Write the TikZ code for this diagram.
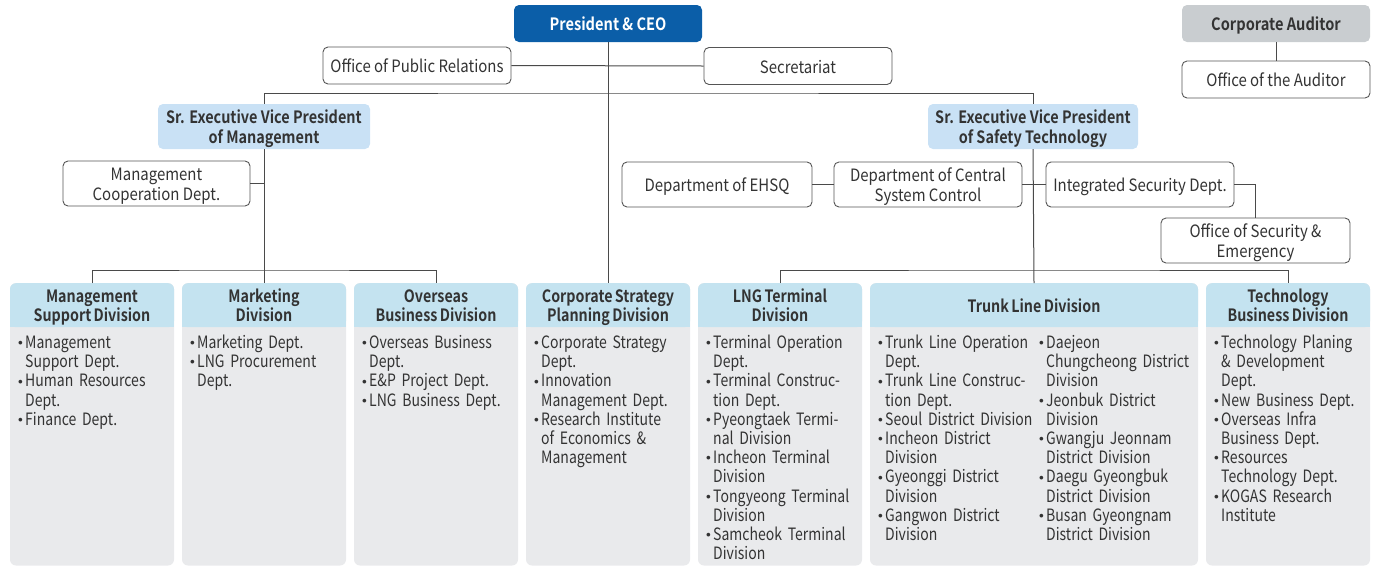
\documentclass[tikz,border=0pt]{standalone}
\usepackage{fontspec}
\usepackage{graphicx}
\setmainfont{Noto Sans CJK KR}[FakeStretch=0.88, BoldFont={Noto Sans CJK KR Bold}]
\newfontfamily\listfam{Noto Sans CJK KR}[FakeStretch=0.825, WordSpace=0.7, BoldFont={Noto Sans CJK KR Bold}]
\newfontfamily\hdrfam{Noto Sans CJK KR}[FakeStretch=0.84, WordSpace=0.75, BoldFont={Noto Sans CJK KR Bold}]
\newfontfamily\sevpfam{Noto Sans CJK KR}[FakeStretch=0.85, BoldFont={Noto Sans CJK KR Bold}]
\newfontfamily\ceofam{Noto Sans CJK KR}[FakeStretch=0.86, BoldFont={Noto Sans CJK KR Bold}]

\definecolor{ceoblue}{HTML}{0B5EA8}
\definecolor{sevpfill}{HTML}{C9E1F5}
\definecolor{hdrfill}{HTML}{C4E3F0}
\definecolor{bodyfill}{HTML}{E9EAEC}
\definecolor{audfill}{HTML}{C9CDD0}
\definecolor{linegray}{HTML}{4A4A4A}
\definecolor{boxgray}{HTML}{555555}
\definecolor{txt}{HTML}{333333}

\newcommand\chartsize{\fontsize{17}{19.2}\selectfont}
% fixed line height and depth, so that every label sits the same way in its box
\newcommand\capline{\rule{0pt}{19pt}}
\newcommand\deepline{\rule[-5pt]{0pt}{5pt}}
\newcommand\itemdot{\makebox[7pt][l]{\raisebox{0.3ex}{\scalebox{0.55}{$\bullet$}}}}
\newcommand\itemcont{\hspace*{7pt}}

% one division column: gray body, blue header with rounded top corners
\newcommand\division[4]{%
  \fill[bodyfill, rounded corners=6pt] (#2,283) rectangle (#3,565.5);
  \fill[hdrfill] (#2,300) rectangle (#3,327);
  \node[hdr, minimum width={#3-#2}, anchor=north] (#1) at ({(#2+#3)/2},283) {\capline#4\deepline};
}

\begin{document}
\begin{tikzpicture}[x=1pt, y=-1pt,
  conn/.style={draw=linegray, line width=1pt},
  box/.style={draw=boxgray, line width=0.9pt, fill=white, rounded corners=5pt,
    inner sep=0pt, align=center, text=txt, font=\chartsize},
  ceobox/.style={fill=ceoblue, rounded corners=5pt, inner sep=0pt, text=white,
    font=\ceofam\chartsize\bfseries, minimum width=188, minimum height=37},
  audbox/.style={fill=audfill, rounded corners=5pt, inner sep=0pt, text=txt,
    font=\ceofam\chartsize\bfseries, minimum width=188, minimum height=37},
  sevp/.style={fill=sevpfill, rounded corners=5pt, inner sep=0pt, text=txt,
    align=center, font=\sevpfam\chartsize\bfseries, minimum height=45},
  hdr/.style={fill=hdrfill, rounded corners=6pt, inner sep=0pt, text=txt,
    align=center, font=\hdrfam\chartsize\bfseries, minimum height=44},
  bodytxt/.style={inner sep=0pt, text=txt, align=left, text width=175,
    font=\listfam\chartsize, anchor=north west}]

\useasboundingbox (0,0) rectangle (1378,566);

% top management
\node[ceobox] (ceo) at (608,23.5) {\capline President \& CEO\deepline};
\node[box, minimum width=188, minimum height=37] (pr) at (417,65.5) {\capline Office of Public Relations\deepline};
\node[box, minimum width=188, minimum height=37] (sec) at (798,66) {\capline Secretariat\deepline};
\node[audbox] (aud) at (1276,23.5) {\capline Corporate Auditor\deepline};
\node[box, minimum width=188, minimum height=37] (oaud) at (1276,79.5) {\capline Office of the Auditor\deepline};

% senior executive vice presidents
\node[sevp, minimum width=212] (sevpM) at (264,126.5) {\capline Sr. Executive Vice President\\of Management\deepline};
\node[sevp, minimum width=210] (sevpS) at (1033,126.5) {\capline Sr. Executive Vice President\\of Safety Technology\deepline};

% staff departments
\node[box, minimum width=187, minimum height=45] (mcoop) at (156.5,183.5) {\capline Management\\Cooperation Dept.\deepline};
\node[box, minimum width=190, minimum height=45] (ehsq) at (717,184.5) {\capline Department of EHSQ\deepline};
\node[box, minimum width=188, minimum height=45] (cent) at (928,184.5) {\capline Department of Central\\System Control\deepline};
\node[box, minimum width=188, minimum height=45] (isec) at (1140,184.5) {\capline Integrated Security Dept.\deepline};
\node[box, minimum width=189, minimum height=45] (osec) at (1255.5,240.5) {\capline Office of Security \&\\Emergency\deepline};

% divisions
\division{d1}{10}{174}{Management\\Support Division}
\division{d2}{182}{346}{Marketing\\Division}
\division{d3}{354}{518}{Overseas\\Business Division}
\division{d4}{526}{690}{Corporate Strategy\\Planning Division}
\division{d5}{698}{862}{LNG Terminal\\Division}
\division{d6}{870}{1198}{Trunk Line Division}
\division{d7}{1206}{1370}{Technology\\Business Division}

% department lists
\node[bodytxt] (b1) at (18,329.3) {\capline\itemdot Management\\\itemcont Support Dept.\\\itemdot Human Resources\\\itemcont Dept.\\\itemdot Finance Dept.};
\node[bodytxt] (b2) at (190,329.3) {\capline\itemdot Marketing Dept.\\\itemdot LNG Procurement\\\itemcont Dept.};
\node[bodytxt] (b3) at (362,329.3) {\capline\itemdot Overseas Business\\\itemcont Dept.\\\itemdot E\&P Project Dept.\\\itemdot LNG Business Dept.};
\node[bodytxt] (b4) at (534,329.3) {\capline\itemdot Corporate Strategy\\\itemcont Dept.\\\itemdot Innovation\\\itemcont Management Dept.\\\itemdot Research Institute\\\itemcont of Economics \&\\\itemcont Management};
\node[bodytxt] (b5) at (706,329.3) {\capline\itemdot Terminal Operation\\\itemcont Dept.\\\itemdot Terminal Construc-\\\itemcont tion Dept.\\\itemdot Pyeongtaek Termi-\\\itemcont nal Division\\\itemdot Incheon Terminal\\\itemcont Division\\\itemdot Tongyeong Terminal\\\itemcont Division\\\itemdot Samcheok Terminal\\\itemcont Division};
\node[bodytxt] (b6a) at (878,329.3) {\capline\itemdot Trunk Line Operation\\\itemcont Dept.\\\itemdot Trunk Line Construc-\\\itemcont tion Dept.\\\itemdot Seoul District Division\\\itemdot Incheon District\\\itemcont Division\\\itemdot Gyeonggi District\\\itemcont Division\\\itemdot Gangwon District\\\itemcont Division};
\node[bodytxt] (b6b) at (1039,329.3) {\capline\itemdot Daejeon\\\itemcont Chungcheong District\\\itemcont Division\\\itemdot Jeonbuk District\\\itemcont Division\\\itemdot Gwangju Jeonnam\\\itemcont District Division\\\itemdot Daegu Gyeongbuk\\\itemcont District Division\\\itemdot Busan Gyeongnam\\\itemcont District Division};
\node[bodytxt] (b7) at (1214,329.3) {\capline\itemdot Technology Planing\\\itemcont \& Development\\\itemcont Dept.\\\itemdot New Business Dept.\\\itemdot Overseas Infra\\\itemcont Business Dept.\\\itemdot Resources\\\itemcont Technology Dept.\\\itemdot KOGAS Research\\\itemcont Institute};

% connectors
\coordinate (bar) at (608,93);
\coordinate (jM) at (264,270);
\coordinate (jS) at (1034,270);
\path[conn] (pr.east) -- (sec.west);
\path[conn] (ceo.south) -- (d4.north);
\path[conn] (sevpM.north) |- (bar) -| (sevpS.north);
\path[conn] (sevpM.south) -- (d2.north);
\path[conn] (d1.north) |- (jM) -| (d3.north);
\path[conn] (mcoop.east) -- (mcoop.east -| sevpM.south);
\path[conn] (sevpS.south) -- (d6.north);
\path[conn] (d5.north) |- (jS) -| (d7.north);
\path[conn] (ehsq.east) -- (cent.west);
\path[conn] (cent.east) -- (isec.west);
\path[conn] (isec.east) -| (osec.north);
\path[conn] (aud.south) -- (oaud.north);

\end{tikzpicture}
\end{document}
